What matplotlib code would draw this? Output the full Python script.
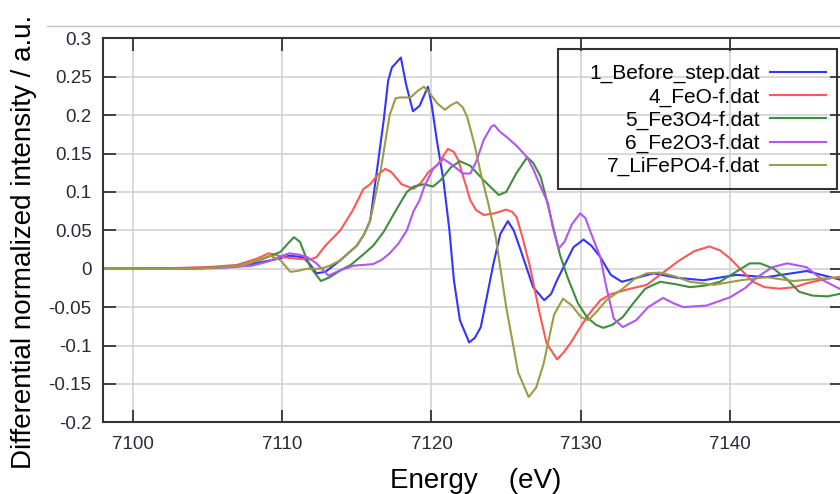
import matplotlib
matplotlib.use("Agg")
import matplotlib.pyplot as plt
from matplotlib.lines import Line2D
from matplotlib.patches import Rectangle

plt.rcParams['font.family'] = ['Liberation Sans', 'DejaVu Sans']

# --- data (energy in eV, intensity in a.u.) ---
labels = ["1_Before_step.dat", "4_FeO-f.dat", "5_Fe3O4-f.dat",
          "6_Fe2O3-f.dat", "7_LiFePO4-f.dat"]
colors = ["#3434ff", "#ff5656", "#3f8d3f", "#b256f0", "#9c9c44"]

before_x = [7098, 7104, 7106, 7107.5, 7108.5, 7109.5, 7110.5, 7111.4, 7111.9, 7112.3,
            7112.9, 7113.9, 7115.0, 7115.5, 7115.9, 7116.35, 7116.8, 7117.1, 7117.35, 7117.95,
            7118.3, 7118.76, 7119.2, 7119.76, 7120.0, 7120.36, 7120.8, 7121.2, 7121.5, 7121.9,
            7122.52, 7122.9, 7123.3, 7124.15, 7124.6, 7125.11, 7125.5, 7125.9, 7126.8, 7127.54,
            7128.0, 7128.4, 7129.5, 7130.17, 7130.7, 7131.3, 7132.0, 7132.74, 7133.5, 7134.85,
            7136.5, 7138.2, 7140.4, 7142.4, 7145.1, 7147.5]
before_y = [0, 0.001, 0.002, 0.004, 0.008, 0.012, 0.017, 0.015, 0.005, -0.006,
            -0.004, 0.011, 0.03, 0.045, 0.063, 0.128, 0.193, 0.245, 0.262, 0.275,
            0.24, 0.205, 0.212, 0.237, 0.215, 0.167, 0.115, 0.05, -0.015, -0.067,
            -0.096, -0.09, -0.076, 0.007, 0.045, 0.062, 0.05, 0.028, -0.024, -0.041,
            -0.033, -0.015, 0.028, 0.038, 0.03, 0.015, -0.008, -0.017, -0.013, -0.006,
            -0.012, -0.015, -0.008, -0.011, -0.003, -0.015]

feo_x = [7098, 7103, 7105, 7107, 7108.3, 7109.1, 7109.6, 7110.1, 7111.0, 7111.9,
         7112.3, 7112.9, 7113.9, 7114.7, 7115.45, 7115.9, 7116.4, 7116.9, 7117.3, 7118.0,
         7118.8, 7119.3, 7119.8, 7120.4, 7121.1, 7121.5, 7121.8, 7122.2, 7122.6, 7123.0,
         7123.5, 7124.2, 7125.0, 7125.4, 7125.7, 7126.1, 7126.6, 7127.2, 7127.7, 7128.4,
         7128.8, 7129.3, 7129.9, 7130.5, 7131.3, 7132.0, 7133.3, 7134.4, 7135.5, 7136.6,
         7137.6, 7138.6, 7139.3, 7140.0, 7140.8, 7141.5, 7142.3, 7143.3, 7144.3, 7145.1,
         7146.2, 7147.5]
feo_y = [0, 0.001, 0.002, 0.005, 0.013, 0.02, 0.018, 0.015, 0.013, 0.012,
         0.015, 0.03, 0.05, 0.075, 0.104, 0.11, 0.122, 0.13, 0.126, 0.11,
         0.104, 0.112, 0.126, 0.135, 0.156, 0.152, 0.141, 0.115, 0.089, 0.076,
         0.07, 0.072, 0.077, 0.074, 0.067, 0.04, 0.002, -0.055, -0.097, -0.118,
         -0.11, -0.097, -0.078, -0.06, -0.041, -0.033, -0.026, -0.021, -0.005, 0.011,
         0.023, 0.029, 0.024, 0.013, -0.003, -0.017, -0.024, -0.026, -0.024, -0.019,
         -0.014, -0.01]

fe3o4_x = [7098, 7104, 7106, 7107.5, 7108.5, 7109.9, 7110.4, 7110.8, 7111.2, 7111.6,
           7111.9, 7112.6, 7113.2, 7114.0, 7114.6, 7115.4, 7116.1, 7116.8, 7117.5, 7118.35,
           7118.8, 7119.5, 7120.1, 7120.6, 7121.3, 7121.9, 7122.6, 7123.5, 7124.5, 7125.0,
           7125.7, 7126.4, 7126.8, 7127.3, 7127.7, 7128.2, 7128.6, 7129.1, 7129.8, 7130.4,
           7131.0, 7131.5, 7132.1, 7132.8, 7133.5, 7134.3, 7135.3, 7136.3, 7137.3, 7138.3,
           7139.3, 7140.3, 7141.3, 7142.0, 7142.9, 7143.8, 7144.6, 7145.5, 7146.5, 7147.5]
fe3o4_y = [0, 0.0, 0.002, 0.005, 0.011, 0.022, 0.033, 0.041, 0.035, 0.015,
           0.002, -0.016, -0.011, -0.001, 0.005, 0.018, 0.03, 0.048, 0.072, 0.1,
           0.107, 0.11, 0.107, 0.115, 0.132, 0.14, 0.134, 0.115, 0.096, 0.1,
           0.125, 0.145, 0.138, 0.12, 0.09, 0.05, 0.018, -0.011, -0.045, -0.063,
           -0.073, -0.077, -0.073, -0.063, -0.045, -0.026, -0.017, -0.02, -0.024, -0.022,
           -0.017, -0.005, 0.007, 0.007, 0.0, -0.014, -0.03, -0.035, -0.036, -0.032]

fe2o3_x = [7098, 7104, 7106, 7108, 7109.0, 7110.0, 7110.5, 7111.2, 7111.7, 7112.3,
           7113.1, 7113.9, 7114.8, 7116.1, 7116.7, 7117.2, 7117.8, 7118.35, 7118.8, 7119.2,
           7119.5, 7120.1, 7120.8, 7121.4, 7122.1, 7122.6, 7123.0, 7123.5, 7124.0, 7124.2,
           7124.6, 7125.0, 7125.7, 7126.4, 7126.8, 7127.3, 7127.8, 7128.1, 7128.5, 7128.9,
           7129.4, 7129.95, 7130.3, 7130.7, 7131.3, 7131.7, 7132.2, 7132.8, 7133.7, 7134.5,
           7135.5, 7136.2, 7136.85, 7138.4, 7140.0, 7141.0, 7141.8, 7142.8, 7143.8, 7145.1,
           7146.2, 7147.5]
fe2o3_y = [0, 0.0, 0.001, 0.004, 0.009, 0.017, 0.02, 0.018, 0.015, 0.007,
           -0.009, -0.002, 0.004, 0.006, 0.012, 0.02, 0.033, 0.05, 0.075, 0.089,
           0.106, 0.13, 0.143, 0.135, 0.124, 0.124, 0.14, 0.168, 0.185, 0.187,
           0.178, 0.172, 0.16, 0.145, 0.13, 0.107, 0.085, 0.055, 0.026, 0.035,
           0.058, 0.072, 0.066, 0.045, 0.015, -0.024, -0.065, -0.076, -0.067, -0.05,
           -0.038, -0.045, -0.05, -0.048, -0.037, -0.025, -0.011, 0.002, 0.007, 0.002,
           -0.015, -0.028]

lifepo4_x = [7098, 7104, 7106, 7107.5, 7108.5, 7109.2, 7109.9, 7110.55, 7111.0, 7111.7,
             7112.6, 7113.2, 7113.9, 7115.0, 7115.5, 7115.9, 7116.3, 7116.6, 7117.2, 7117.6,
             7117.9, 7118.6, 7119.1, 7119.5, 7119.9, 7120.4, 7120.9, 7121.3, 7121.7, 7122.1,
             7122.4, 7122.9, 7123.3, 7123.8, 7124.3, 7125.0, 7125.8, 7126.5, 7127.0, 7127.5,
             7128.2, 7128.8, 7129.4, 7130.0, 7130.5, 7131.1, 7131.7, 7132.8, 7133.6, 7134.4,
             7135.3, 7136.3, 7137.3, 7138.9, 7140.7, 7142.4, 7144.2, 7146.0, 7147.5]
lifepo4_y = [0, 0.0, 0.002, 0.005, 0.012, 0.017, 0.011, -0.004, -0.003, 0.0,
             0.0, 0.004, 0.011, 0.03, 0.045, 0.063, 0.1, 0.128, 0.2, 0.222,
             0.223, 0.223, 0.232, 0.237, 0.228, 0.215, 0.207, 0.213, 0.217, 0.21,
             0.197, 0.16, 0.124, 0.085, 0.041, -0.05, -0.135, -0.167, -0.155, -0.124,
             -0.06, -0.039, -0.048, -0.063, -0.067, -0.055, -0.041, -0.026, -0.013, -0.006,
             -0.005, -0.01, -0.017, -0.021, -0.015, -0.011, -0.016, -0.013, -0.011]

series_x = [before_x, feo_x, fe3o4_x, fe2o3_x, lifepo4_x]
series_y = [before_y, feo_y, fe3o4_y, fe2o3_y, lifepo4_y]

x_ticks = [7100, 7110, 7120, 7130, 7140]
y_ticks = [-0.2, -0.15, -0.1, -0.05, 0, 0.05, 0.1, 0.15, 0.2, 0.25, 0.3]
y_tick_labels = ["-0.2", "-0.15", "-0.1", "-0.05", "0", "0.05", "0.1",
                 "0.15", "0.2", "0.25", "0.3"]

# --- figure ---
fig = plt.figure(figsize=(8.4, 4.94), dpi=100)
ax = fig.add_axes([0.1223, 0.1451, 0.8806, 0.7773])

for xs, ys, c in zip(series_x, series_y, colors):
    ax.plot(xs, ys, color=c, lw=1.5, solid_joinstyle='round')

ax.set_xlim(7098, 7147.5)
ax.set_ylim(-0.2, 0.3)
ax.set_xticks(x_ticks)
ax.set_yticks(y_ticks)
ax.set_yticklabels(y_tick_labels)
ax.grid(True, color="#d6d6d6", lw=1.3)
ax.set_axisbelow(True)
ax.tick_params(direction='in', length=9, width=1.3, color="#333333",
               top=True, right=True, labelsize=13.5, labelcolor="#2a2a3a")
ax.tick_params(axis='y', pad=8)
ax.tick_params(axis='x', pad=10)
for s in ax.spines.values():
    s.set_color("#333333")
    s.set_linewidth(1.5)
ax.spines['right'].set_visible(False)

fig.text(0.566, 0.012, "Energy    (eV)", fontsize=20, ha='center', va='baseline')
fig.text(0.028, 0.511, "Differential normalized intensity / a.u.", fontsize=20,
         rotation=90, ha='center', va='center')

# legend: text on the left, line sample on the right, frame drawn separately
handles = [Line2D([], [], color=c, lw=1.5) for c in colors]
fig.legend(handles, labels, loc='upper right', bbox_to_anchor=(0.9833, 0.870),
           frameon=False, markerfirst=False, fontsize=15, labelspacing=0.19,
           handlelength=2.7, handletextpad=0.48, borderpad=0, borderaxespad=0)
fig.patches.append(Rectangle((0.6643, 0.6174), 0.3317, 0.284, transform=fig.transFigure,
                             fill=False, edgecolor="#333333", lw=1.5, zorder=5))

# thin gray rule at the very top of the screenshot
fig.add_artist(Line2D([0.056, 1.0], [0.947, 0.947], color="#c4c4c4", lw=1,
                      transform=fig.transFigure))

fig.savefig("out.png", dpi=100, facecolor="white")
